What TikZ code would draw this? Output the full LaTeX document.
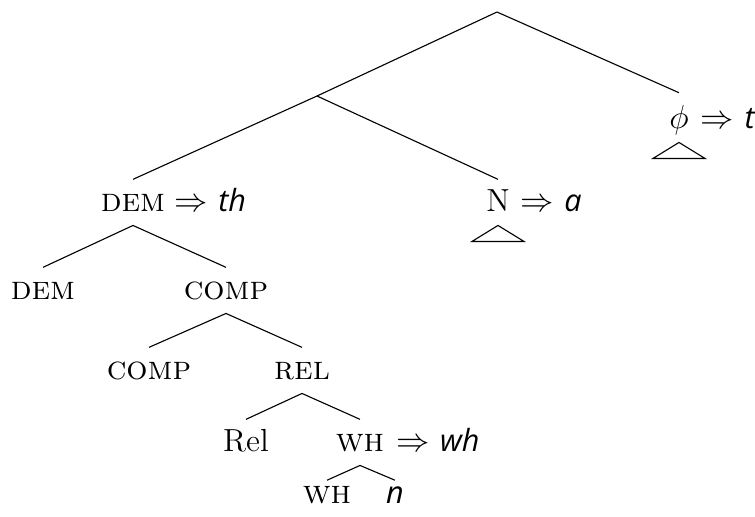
\documentclass[tikz,border=0pt]{standalone}
\usepackage{fontspec}
\usetikzlibrary{positioning}
\newfontfamily\exfont{Open Sans}
\newcommand\fsN{\fontsize{11.5}{14}\selectfont}
\newcommand\syn[1]{{\fontsize{12}{14}\selectfont\textsc{#1}}}
\newcommand\surf[1]{$\Rightarrow$\ {\exfont\itshape\fontsize{11}{13}\selectfont #1}}

\begin{document}
\begin{tikzpicture}[x=0.36pt,y=-0.36pt,
  lab/.style={anchor=base,font=\fsN,inner xsep=1pt,inner ysep=3pt,text height=8.2pt,text depth=2pt},
  leaf/.style={lab,text height=5pt},
  spell/.style={font=\fsN,inner xsep=1pt,inner ysep=3pt,text height=8.2pt,text depth=2pt},
  branch/.style={line width=0.4pt}]
\useasboundingbox (0,0) rectangle (755,516);
% ============ top ============
\coordinate (root) at (497,12);
\coordinate (np) at (317,96);
\node[lab] (dem) at (133,211) {\syn{dem}};
\node[spell,right=1pt of dem] (demx) {\surf{th}};
\node[lab] (n) at (498,211) {N};
\node[spell,right=1.5pt of n] (nx) {\surf{a}};
\node[lab,text height=9.5pt] (phi) at (679,128) {$\phi$};
\node[spell,anchor=base west,text height=9.5pt] (phix) at ([xshift=2pt]phi.base east) {\surf{t}};
\draw[branch] (root) -- (np) -- (dem.north);
\draw[branch] (np) -- (n.north);
\draw[branch] (root) -- (phi.north);
% roofs
\foreach \r in {n,phi} {\draw[branch] (\r.south) -- ++(-26,16) -- ++(52,0) -- cycle;}
% ============ DEM ============
\node[lab] (demleaf) at (43,299) {\syn{dem}};
\node[lab] (comp) at (226,299) {\syn{comp}};
\draw[branch] (demleaf.north) -- (dem.south) -- (comp.north);
\node[lab] (compleaf) at (149,379) {\syn{comp}};
\node[lab] (rel) at (302,379) {\syn{rel}};
\draw[branch] (compleaf.north) -- (comp.south) -- (rel.north);
\node[lab] (relleaf) at (246,451) {Rel};
\node[lab] (wh) at (360,451) {\syn{wh}};
\node[spell,right=2pt of wh] (whx) {\surf{wh}};
\draw[branch] (relleaf.north) -- (rel.south) -- (wh.north);
\node[leaf] (whleaf) at (327,503) {\syn{wh}};
\node[leaf] (nleaf) at (395,503) {\exfont\itshape\fontsize{11}{13}\selectfont n};
\draw[branch] (whleaf.north) -- (wh.south) -- (nleaf.north);
\end{tikzpicture}
\end{document}
